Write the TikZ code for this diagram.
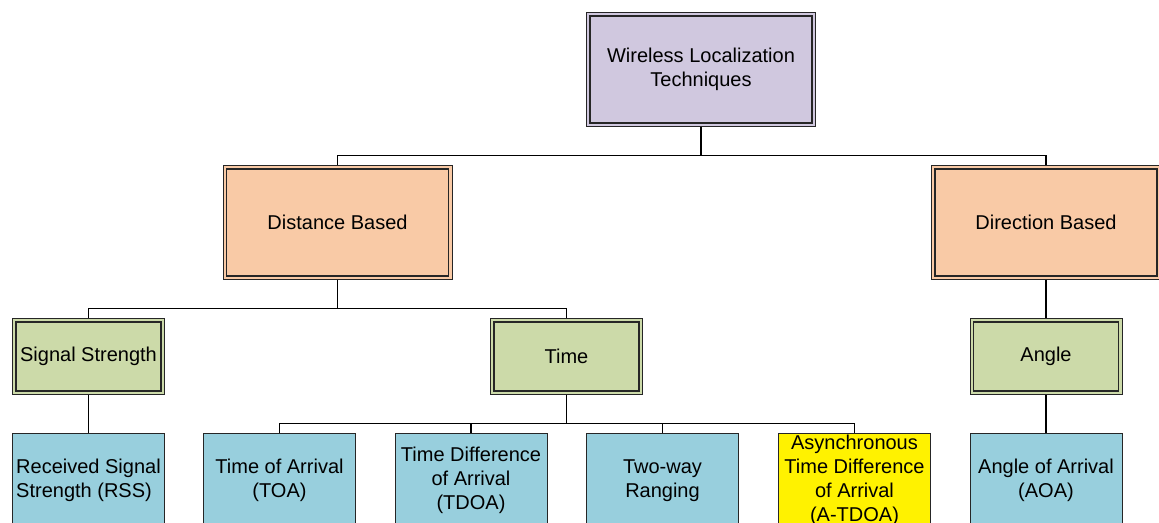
\documentclass[tikz,border=0pt]{standalone}
\usepackage{fontspec}
\setmainfont{Liberation Sans}
\usetikzlibrary{calc}
\definecolor{rootfill}{HTML}{D0C8DF}
\definecolor{basefill}{HTML}{F9CAA6}
\definecolor{groupfill}{HTML}{CCDAA9}
\definecolor{leaffill}{HTML}{98CFDD}

\tikzset{
  box/.style={align=center, font=\fontsize{15}{18}\selectfont, inner sep=1pt, draw=black!85, line width=0.6pt},
  dbox/.style={box, path picture={\draw[black!85, line width=1.1pt]
      ($(path picture bounding box.south west)+(2.7pt,2.7pt)$) rectangle ($(path picture bounding box.north east)-(2.7pt,2.7pt)$);}},
  rootbox/.style={dbox, fill=rootfill, minimum width=171.9pt, minimum height=85.65pt},
  basebox/.style={dbox, fill=basefill, minimum width=171.9pt, minimum height=85.65pt},
  groupbox/.style={dbox, fill=groupfill, minimum width=114.15pt, minimum height=57.15pt},
  leafbox/.style={box, fill=leaffill, minimum width=114.15pt, minimum height=70.5pt},
  link/.style={draw=black, line width=1pt}
}

\begin{document}
\begin{tikzpicture}[x=0.75pt, y=-0.75pt]
    \useasboundingbox (0,0) rectangle (1159,523);
    % root
    \node[rootbox] (wlt) at (701,69.5) {Wireless Localization\\Techniques};
    % second level
    \node[basebox] (dist) at (337.5,222.5) {Distance Based};
    \node[basebox] (dir) at (1046,222.5) {Direction Based};
    % third level
    \node[groupbox] (sig) at (88.5,356.5) {Signal Strength};
    \node[groupbox] (time) at (566.5,356.5) {Time};
    \node[groupbox] (ang) at (1046,356.5) {Angle};
    % leaves
    \node[leafbox, align=left] (rss) at (88.5,480.5) {Received Signal\\Strength (RSS)};
    \node[leafbox] (toa) at (279.5,480.5) {Time of Arrival\\(TOA)};
    \node[leafbox] (tdoa) at (471,480.5) {Time Difference\\of Arrival\\(TDOA)};
    \node[leafbox] (twr) at (662.5,480.5) {Two-way\\Ranging};
    \node[leafbox, fill=yellow] (atdoa) at (854.5,480.5) {Asynchronous\\Time Difference\\of Arrival\\(A-TDOA)};
    \node[leafbox] (aoa) at (1046,480.5) {Angle of Arrival\\(AOA)};

    \draw[link] (wlt.south) -- ++(0,28.5) -| (dist.north);
    \draw[link] (wlt.south) -- ++(0,28.5) -| (dir.north);
    \draw[link] (dist.south) -- ++(0,28.5) -| (sig.north);
    \draw[link] (dist.south) -- ++(0,28.5) -| (time.north);
    \draw[link] (dir.south) -- (ang.north);
    \draw[link] (sig.south) -- (rss.north);
    \foreach \leaf in {toa,tdoa,twr,atdoa}
        \draw[link] (time.south) -- ++(0,28.5) -| (\leaf.north);
    \draw[link] (ang.south) -- (aoa.north);
\end{tikzpicture}
\end{document}
